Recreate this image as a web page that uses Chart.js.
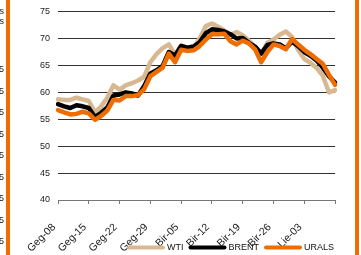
<!DOCTYPE html>
<html>
<head>
<meta charset="utf-8">
<script src="https://cdn.jsdelivr.net/npm/chart.js@4/dist/chart.umd.min.js"></script>
<style>
html,body{margin:0;padding:0;background:#fff;}
canvas{display:block;}
</style>
</head>
<body>
<canvas id="c" width="361" height="255"></canvas>
<script>
const categories = [
  "Geg-08","Geg-09","Geg-10","Geg-11","Geg-12",
  "Geg-15","Geg-16","Geg-17","Geg-18","Geg-19",
  "Geg-22","Geg-23","Geg-24","Geg-25","Geg-26",
  "Geg-29","Geg-30","Geg-31","Bir-01","Bir-02",
  "Bir-05","Bir-06","Bir-07","Bir-08","Bir-09",
  "Bir-12","Bir-13","Bir-14","Bir-15","Bir-16",
  "Bir-19","Bir-20","Bir-21","Bir-22","Bir-23",
  "Bir-26","Bir-27","Bir-28","Bir-29","Bir-30",
  "Lie-03","Lie-04","Lie-05","Lie-06","Lie-07",
  "Lie-10"
];
const wti = [
  58.7, 58.6, 58.6, 59.0, 58.7,
  58.4, 56.3, 57.4, 59.0, 61.3,
  60.5, 61.3, 61.7, 62.2, 62.9,
  65.6, 67.1, 68.2, 68.9, 67.0,
  68.7, 68.2, 68.2, 70.0, 72.3,
  72.8, 72.2, 71.5, 70.7, 71.2,
  70.6, 69.6, 68.4, 67.2, 69.2,
  69.8, 70.7, 71.3, 70.3, 67.9,
  66.2, 65.5, 64.5, 63.1, 60.0,
  60.4
];
const brent = [
  57.8, 57.4, 57.1, 57.6, 57.4,
  57.1, 55.4, 56.2, 57.2, 59.4,
  59.6, 60.0, 59.8, 59.4, 61.2,
  63.5, 64.1, 64.9, 67.5, 66.8,
  68.6, 68.3, 68.5, 69.3, 71.0,
  71.7, 71.6, 71.3, 70.8, 70.0,
  70.1, 69.2, 68.5, 67.2, 68.8,
  69.1, 68.9, 68.2, 69.4, 68.6,
  67.5, 66.8, 65.9, 64.6, 63.0,
  61.8
];
const urals = [
  56.7, 56.3, 55.9, 56.0, 56.4,
  56.1, 54.9, 55.6, 56.6, 58.6,
  58.5, 59.3, 59.3, 59.5, 60.6,
  63.0, 63.8, 64.6, 67.2, 65.6,
  67.9, 67.7, 67.8, 68.6, 69.8,
  70.8, 70.8, 70.9, 69.5, 68.9,
  69.6, 69.1, 68.0, 65.6, 67.5,
  68.9, 68.6, 68.0, 69.9, 68.9,
  67.9, 67.1, 66.2, 65.3, 63.3,
  61.4
];
const seriesNames = ["WTI", "BRENT", "URALS"];
const yTicks = [40, 45, 50, 55, 60, 65, 70, 75];

const colors = ["#D8B890", "#000000", "#EF6C00"];
const FONT = "'Liberation Sans', Arial, sans-serif";

const decoPlugin = {
  id: 'deco',
  beforeDraw(chart) {
    const ctx = chart.ctx;
    ctx.save();
    ctx.fillStyle = '#fff';
    ctx.fillRect(0, 0, chart.width, chart.height);
    ctx.fillStyle = '#EF6C00';
    ctx.fillRect(6, 0, 4, chart.height);
    ctx.fillRect(355, 0, 4, chart.height);
    ctx.fillStyle = '#222';
    ctx.font = '9px ' + FONT;
    ctx.textAlign = 'right';
    ctx.textBaseline = 'middle';
    ctx.fillText('s', 4, 12);
    ctx.fillText('s', 4, 22);
    [70, 92, 113, 135, 156, 178, 199, 221, 242].forEach(y => ctx.fillText('5', 4, y));
    ctx.restore();
  },
  afterDraw(chart) {
    const ctx = chart.ctx;
    ctx.save();
    ctx.font = '9px ' + FONT;
    ctx.textBaseline = 'middle';
    ctx.textAlign = 'left';
    let x = 127;
    const y = 247.5;
    chart.data.datasets.forEach((ds) => {
      ctx.strokeStyle = ds.borderColor;
      ctx.lineWidth = 4;
      ctx.lineCap = 'round';
      ctx.beginPath();
      ctx.moveTo(x + 2, y);
      ctx.lineTo(x + 36, y);
      ctx.stroke();
      ctx.fillStyle = '#111';
      ctx.fillText(ds.label, x + 40, y + 0.5);
      x += 40 + ctx.measureText(ds.label).width + 5;
    });
    ctx.restore();
  }
};

new Chart(document.getElementById('c'), {
  type: 'line',
  data: {
    labels: categories,
    datasets: [
      { label: seriesNames[0], data: wti, borderColor: colors[0], order: 3 },
      { label: seriesNames[1], data: brent, borderColor: colors[1], order: 2 },
      { label: seriesNames[2], data: urals, borderColor: colors[2], order: 1 }
    ].map(d => Object.assign(d, {
      borderWidth: 4.5, pointRadius: 0, tension: 0, fill: false,
      borderJoinStyle: 'round', borderCapStyle: 'round'
    }))
  },
  options: {
    responsive: false,
    animation: false,
    devicePixelRatio: 1,
    layout: { padding: { left: 0, right: 15, top: 4, bottom: 0 } },
    plugins: { legend: { display: false }, tooltip: { enabled: false } },
    scales: {
      x: {
        type: 'category',
        offset: false,
        afterBuildTicks(scale) {
          scale.ticks = scale.ticks.filter(t => t.value % 5 === 0);
        },
        afterFit(scale) { scale.height = 55; },
        grid: { drawOnChartArea: false, drawTicks: true, tickLength: 4, color: '#777', lineWidth: 1 },
        border: { display: true, color: '#777', width: 1 },
        ticks: {
          autoSkip: false,
          maxRotation: 45, minRotation: 45,
          padding: 17,
          labelOffset: -4,
          color: '#222',
          font: { family: FONT, size: 10.5 },
          callback(v) { return v === categories.length - 1 ? '' : categories[v]; }
        }
      },
      y: {
        min: yTicks[0], max: yTicks[yTicks.length - 1],
        afterBuildTicks(scale) { scale.ticks = yTicks.map(v => ({ value: v })); },
        afterFit(scale) { scale.width = 58; },
        grid: { drawTicks: false, color: '#333', lineWidth: 1 },
        border: { display: false },
        ticks: {
          padding: 8,
          color: '#222',
          font: { family: FONT, size: 9, lineHeight: 0.8 }
        }
      }
    }
  },
  plugins: [decoPlugin]
});
</script>
</body>
</html>
